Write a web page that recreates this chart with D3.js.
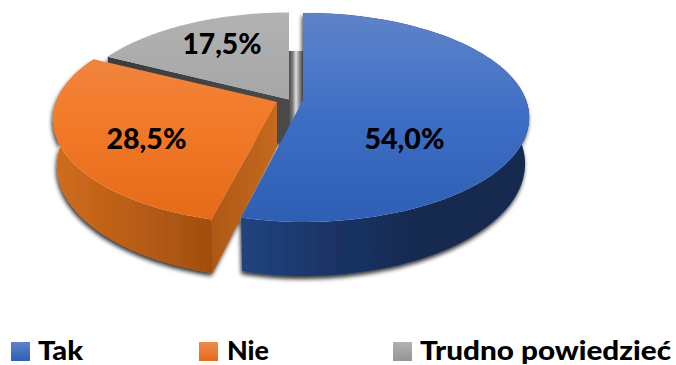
<!DOCTYPE html>
<html><head><meta charset="utf-8">
<script src="https://cdn.jsdelivr.net/npm/d3@7"></script>
<style>html,body{margin:0;padding:0;background:#fff}svg{display:block}</style></head>
<body><svg id="c" width="676" height="365"></svg>
<script>
const categories=["Tak","Nie","Trudno powiedzieć"];
const values=[54.0,28.5,17.5];
const labels=["54,0%","28,5%","17,5%"];
const apexX=[303,277,289];
const apexY=[100,102,99.5];
const labelPos=[[404.5,149],[146.5,149],[222,54]];
const labelLen=[80,80,79];
const swatchX=[11,199,393];
const legendX=[38,227,420];
const legendLen=[45,42,251];
const topStops=[["#5f83c9","#3d6ec5","#2f5fb4"],["#ee8c50","#f37a28","#e46a18"],["#b2b2b2","#a4a4a4","#949494"]];
const wallStops=[["#21437f","#1a3466","#152a50"],["#d06c1c","#b85d16","#a04d0e"],["#555555","#444444","#3a3a3a"]];

const svg=d3.select("#c"),defs=svg.append("defs");
const A=223,leftA=[209,221,219],B=101.6,K=0.167,D0=45,conv=0.982;
const pie=d3.pie().sort(null).value(d=>d);
const arcs=pie(values);
const angle=d3.scaleLinear().domain([0,1]);
function project(i,t,r,lower){
  const s=1/(1+K*r*Math.cos(t));
  const sn=Math.sin(t);
  const x=(sn<0?leftA[i]:A)*r*sn*s*(lower?conv:1)+apexX[i];
  const y=apexY[i]-B*r*Math.cos(t)*s+(lower?D0*s:0);
  return [x,y];
}
const line=d3.line();
function samples(a){const n=90;return d3.range(n+1).map(k=>angle.range([a.startAngle,a.endAngle])(k/n));}
function grad(id,colors,vertical,x1,x2){
  const g=defs.append("linearGradient").attr("id",id).attr("gradientUnits","userSpaceOnUse");
  if(vertical)g.attr("x1",0).attr("x2",0).attr("y1",x1).attr("y2",x2);
  else g.attr("x1",x1).attr("x2",x2).attr("y1",0).attr("y2",0);
  colors.forEach((c,i)=>g.append("stop").attr("offset",i/(colors.length-1)).attr("stop-color",c));
}
const f=defs.append("filter").attr("id","sh").attr("x","-10%").attr("y","-10%").attr("width","120%").attr("height","125%");
f.append("feDropShadow").attr("dx",-1).attr("dy",3).attr("stdDeviation",2.2).attr("flood-color","#000").attr("flood-opacity",0.8);

arcs.forEach((a,i)=>{
  grad("top"+i,topStops[i],true,apexY[i]-87,apexY[i]+122);
  grad("wall"+i,wallStops[i],false,i==0?241:apexX[i]-222,i==0?420:apexX[i]-60);
});
grad("gapWall",["#4a4a4a","#7a7a7a","#dddddd","#8c8c8c","#404040"],false,apexX[2],apexX[0]);
grad("cutO",["#ae5714","#c46a20"],false,apexX[1]-69,apexX[1]);
grad("cutG",["#3c3c3c","#4a4a4a"],false,apexX[2]-182,apexX[2]);

const walls=svg.append("g").attr("filter","url(#sh)");
const gi=2,g=arcs[gi];
const gApex=project(gi,0,0,false), gApexL=project(gi,0,0,true), gBackL=project(gi,g.endAngle,1,true);
walls.append("path").attr("d",line([[apexX[2],gBackL[1]],[apexX[0],gBackL[1]],[apexX[0],gApexL[1]],[apexX[2],gApexL[1]]])+"Z").attr("fill","url(#gapWall)");
const gS=project(gi,g.startAngle,1,false), gSL=project(gi,g.startAngle,1,true);
walls.append("path").attr("d",line([gS,gApex,gApexL,gSL])+"Z").attr("fill","url(#cutG)");
const oi=1,o=arcs[oi];
const oOuter=samples(o).map(t=>project(oi,t,1,false));
const oOuterL=samples(o).map(t=>project(oi,t,1,true)).reverse();
walls.append("path").attr("d",line(oOuter.concat(oOuterL))+"Z").attr("fill","url(#wall1)");
const oS=project(oi,o.startAngle,1,false),oSL=project(oi,o.startAngle,1,true),oA=project(oi,0,0,false),oAL=project(oi,0,0,true);
walls.append("path").attr("d",line([oS,oA,oAL,oSL])+"Z").attr("fill","url(#cutO)");
const bi=0,b=arcs[bi];
const bOuter=samples(b).map(t=>project(bi,t,1,false));
const bOuterL=samples(b).map(t=>project(bi,t,1,true)).reverse();
walls.append("path").attr("d",line(bOuter.concat(bOuterL))+"Z").attr("fill","url(#wall0)");
[2,1,0].forEach(i=>{
  const pts=[project(i,0,0,false)].concat(samples(arcs[i]).map(t=>project(i,t,1,false)));
  svg.append("path").attr("d",line(pts)+"Z").attr("fill","url(#top"+i+")");
});
const font="Lato,'Open Sans',sans-serif";
labels.forEach((l,i)=>{
  svg.append("text").attr("x",labelPos[i][0]).attr("y",labelPos[i][1])
   .attr("text-anchor","middle").attr("font-family",font).attr("font-weight",900).attr("font-size",29)
   .attr("textLength",labelLen[i]).attr("lengthAdjust","spacingAndGlyphs").attr("fill","#000").text(l);
});
categories.forEach((c,i)=>{
  grad("leg"+i,[topStops[i][0],topStops[i][2]],true,342,361);
  svg.append("rect").attr("x",swatchX[i]).attr("y",342).attr("width",19).attr("height",19).attr("fill","url(#leg"+i+")");
  svg.append("text").attr("x",legendX[i]).attr("y",359.5).attr("font-family",font).attr("font-weight",900).attr("font-size",26.5)
   .attr("textLength",legendLen[i]).attr("lengthAdjust","spacingAndGlyphs").attr("fill","#000").text(c);
});
</script></body></html>
